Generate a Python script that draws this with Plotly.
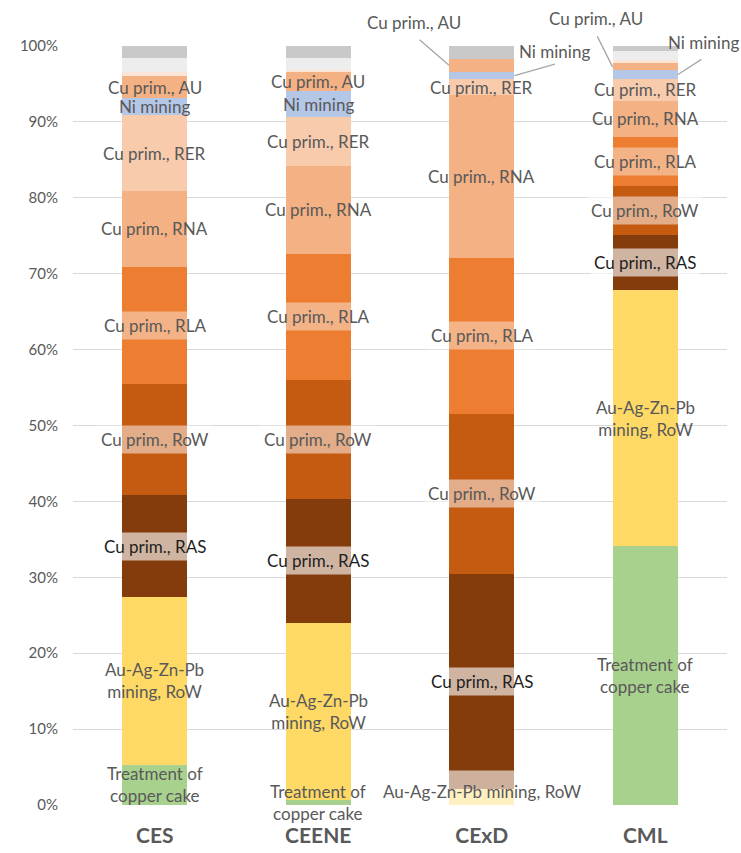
import plotly.graph_objects as go

# ---------------- data ----------------
categories = ["CES", "CEENE", "CExD", "CML"]

series_names = [
    "Treatment of copper cake",
    "Au-Ag-Zn-Pb mining, RoW",
    "Cu prim., RAS",
    "Cu prim., RoW",
    "Cu prim., RLA",
    "Cu prim., RNA",
    "Cu prim., RER",
    "Ni mining",
    "Cu prim., AU",
    "Other 1",
    "Other 2",
    "Other 3",
]

treatment = [5.3, 0.6, 0.0, 34.1]
au_ag_zn_pb = [22.1, 23.4, 2.1, 33.7]
cu_ras = [13.4, 16.3, 28.4, 7.3]
cu_row = [14.7, 15.7, 21.0, 6.5]
cu_rla = [15.4, 16.6, 20.6, 6.4]
cu_rna = [10.0, 11.6, 21.4, 4.8]
cu_rer = [10.0, 6.4, 2.1, 2.9]
ni_mining = [2.2, 3.5, 1.0, 1.1]
cu_au = [2.9, 2.5, 1.7, 0.9]
other1 = [0.6, 0.3, 0.0, 0.5]
other2 = [1.8, 1.5, 0.0, 1.1]
other3 = [1.6, 1.6, 1.7, 0.7]

values = [treatment, au_ag_zn_pb, cu_ras, cu_row, cu_rla, cu_rna,
          cu_rer, ni_mining, cu_au, other1, other2, other3]

# label text per series per bar (None = no label)
lbl_treat = ["Treatment of<br>copper cake", "Treatment of<br>copper cake", None, "Treatment of<br>copper cake"]
lbl_auag = ["Au-Ag-Zn-Pb<br>mining, RoW", "Au-Ag-Zn-Pb<br>mining, RoW", "Au-Ag-Zn-Pb mining, RoW", "Au-Ag-Zn-Pb<br>mining, RoW"]
lbl_ras = ["Cu prim., RAS"] * 4
lbl_row = ["Cu prim., RoW"] * 4
lbl_rla = ["Cu prim., RLA"] * 4
lbl_rna = ["Cu prim., RNA"] * 4
lbl_rer = ["Cu prim., RER"] * 4
lbl_ni = ["Ni mining"] * 4
lbl_au = ["Cu prim., AU"] * 4
labels = [lbl_treat, lbl_auag, lbl_ras, lbl_row, lbl_rla, lbl_rna,
          lbl_rer, lbl_ni, lbl_au, [None] * 4, [None] * 4, [None] * 4]

y_ticks = [0, 10, 20, 30, 40, 50, 60, 70, 80, 90, 100]
y_tick_labels = ["0%", "10%", "20%", "30%", "40%", "50%", "60%", "70%", "80%", "90%", "100%"]

# ---------------- styles ----------------
colors = ["#A9D18E", "#FFD966", "#843C0C", "#C55A11", "#ED7D31", "#F4B183",
          "#F8CBAD", "#B4C7E7", "#F4B183", "#FBE5D6", "#EDEDED", "#C9C9C9"]
band_alpha = [0, 0, 0.62, 0.5, 0.42, 0, 0, 0, 0, 0, 0, 0]
label_color = ["#595959"] * 12
label_color[2] = "#1E1E1E"

FONT = "Lato, Calibri, sans-serif"
LBL_SIZE = 17
GREY = "#595959"
BARGAP = 0.6
HALF = (1 - BARGAP) / 2

fig = go.Figure()
for name, vals, col in zip(series_names, values, colors):
    fig.add_trace(go.Bar(x=categories, y=vals, name=name,
                         marker=dict(color=col, line=dict(width=0)),
                         showlegend=False))

annotations = []
# callouts: (series index, bar index) -> layout for text and leader line
callouts = {
    (8, 2): dict(side=-1, tdx=-68, tdy=24, ax=-31, ay=-27),
    (7, 2): dict(side=1, tdx=73, tdy=-5, ax=42, ay=-12),
    (8, 3): dict(side=-1, tdx=-49, tdy=28, ax=-16, ay=-32),
    (7, 3): dict(side=1, tdx=58, tdy=4, ax=25, ay=-16),
}

for j in range(len(categories)):
    base = 0.0
    for i in range(len(series_names)):
        v = values[i][j]
        mid = base + v / 2
        txt = labels[i][j]
        if txt is not None:
            if (i, j) in callouts:
                c = callouts[(i, j)]
                annotations.append(dict(
                    x=j, y=1, xref="x", yref="paper", text=txt, showarrow=False,
                    xshift=c["tdx"], yshift=c["tdy"], yanchor="middle",
                    font=dict(family=FONT, size=LBL_SIZE, color=label_color[i])))
                annotations.append(dict(
                    x=j + c["side"] * HALF, y=mid, xref="x", yref="y", text="",
                    showarrow=True, arrowhead=0, arrowwidth=1.3,
                    arrowcolor="#A6A6A6", ax=c["ax"], ay=c["ay"], standoff=0,
                    startstandoff=0))
            elif i == 1 and j == 2:
                # single-line label with band, sitting on the axis
                annotations.append(dict(
                    x=j, y=0, xref="x", yref="y", text=txt, showarrow=False,
                    yanchor="bottom", yshift=-8, height=41, valign="middle",
                    borderpad=0, bgcolor="rgba(255,255,255,0.6)",
                    font=dict(family=FONT, size=LBL_SIZE, color=label_color[i])))
            else:
                a = band_alpha[i]
                annotations.append(dict(
                    x=j, y=mid, xref="x", yref="y", text=txt, showarrow=False,
                    borderpad=3,
                    bgcolor=("rgba(255,255,255,%s)" % a) if a else "rgba(0,0,0,0)",
                    font=dict(family=FONT, size=LBL_SIZE, color=label_color[i])))
        base += v

fig.update_layout(
    barmode="stack",
    bargap=BARGAP,
    autosize=False,
    width=741, height=853,
    margin=dict(l=73, r=14, t=46, b=48, autoexpand=False),
    paper_bgcolor="white", plot_bgcolor="white",
    font=dict(family=FONT, color=GREY),
    annotations=annotations,
)
fig.update_yaxes(range=[0, 100], tickmode="array", tickvals=y_ticks,
                 ticktext=y_tick_labels, automargin=False,
                 showgrid=True, gridcolor="#D9D9D9", gridwidth=1.3,
                 zeroline=False, showline=False, ticks="",
                 ticklabelstandoff=14,
                 tickfont=dict(family=FONT, size=15, color=GREY))
fig.update_xaxes(range=[-0.5, len(categories) - 0.5],
                 showgrid=False, showline=False, ticks="", automargin=False,
                 ticklabelstandoff=16,
                 tickfont=dict(family=FONT, size=21, color=GREY, weight="bold"))

fig.write_html("out.html", config={"responsive": False, "displayModeBar": False})
